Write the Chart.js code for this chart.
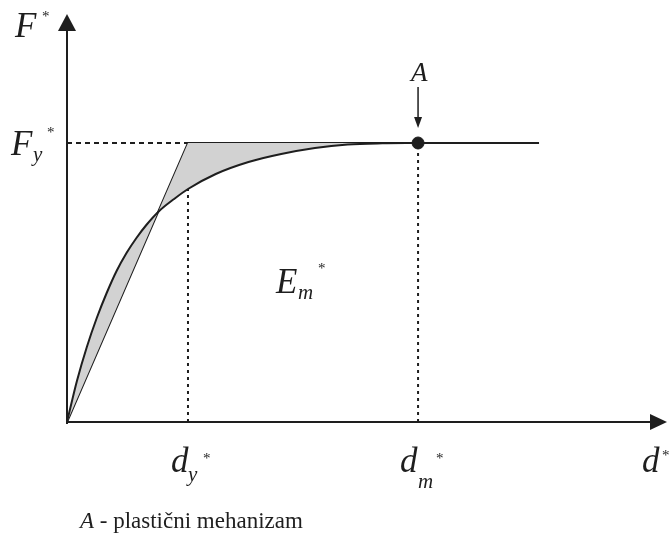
<!DOCTYPE html>
<html>
<head>
<meta charset="utf-8">
<script src="https://cdn.jsdelivr.net/npm/chart.js@4.4.1/dist/chart.umd.min.js"></script>
<style>
    body { margin: 0; background: #fff; }
    #wrap { width: 670px; height: 535px; position: relative; }
</style>
</head>
<body>
<div id="wrap"><canvas id="mainChart"></canvas></div>
<script>
// key values of the idealised diagram (drawing units)
var dy = 122;        // d_y*
var dm = 354;        // d_m*
var Fy = 279;        // F_y*
var xMax = 601;      // end of the d* axis
var yMax = 408;      // end of the F* axis
var flatEnd = 476;   // end of the plateau line

// real capacity curve, read point by point
var curveD = [0, 10, 20, 30, 40, 50, 60, 70, 80, 93, 108, 122, 150, 183, 216, 250, 283, 318, 354];
var curveF = [0, 41, 75, 104, 129, 151, 169, 184, 197, 211, 223, 233, 248, 260, 268, 274, 277.5, 278.7, 279];

// idealised elasto-plastic line
var bilinD = [0, dy, flatEnd];
var bilinF = [0, Fy, Fy];

var ink = '#1e1e1e';

function toPoints(xs, ys) {
    var pts = [];
    for (var i = 0; i < xs.length; i++) {
        pts.push({x: xs[i], y: ys[i]});
    }
    return pts;
}

// draws a letter with optional subscript and star
function label(ctx, x, y, main, sub, star, opts) {
    opts = opts || {};
    var size = opts.size || 35;
    ctx.fillStyle = ink;
    ctx.textBaseline = 'alphabetic';
    ctx.textAlign = 'left';
    ctx.font = 'italic ' + size + 'px "Liberation Serif"';
    ctx.fillText(main, x, y);
    if (sub) {
        ctx.font = 'italic 21px "Liberation Serif"';
        ctx.fillText(sub, opts.subX, opts.subY);
    }
    if (star) {
        ctx.font = '15px "Liberation Serif"';
        ctx.fillText('*', opts.starX, opts.starY);
    }
}

const overlay = {
    id: 'overlay',
    afterDatasetsDraw(chart) {
        const ctx = chart.ctx;
        const sx = chart.scales.x;
        const sy = chart.scales.y;
        const x0 = sx.getPixelForValue(0);
        const y0 = sy.getPixelForValue(0);
        const xe = sx.getPixelForValue(xMax);
        const ye = sy.getPixelForValue(yMax);

        ctx.save();
        ctx.strokeStyle = ink;
        ctx.fillStyle = ink;
        ctx.lineWidth = 2;
        ctx.setLineDash([]);

        // axes
        ctx.beginPath();
        ctx.moveTo(x0, y0 + 2);
        ctx.lineTo(x0, ye + 14);
        ctx.moveTo(x0, y0);
        ctx.lineTo(xe - 12, y0);
        ctx.stroke();

        // arrow heads
        ctx.beginPath();
        ctx.moveTo(x0, ye);
        ctx.lineTo(x0 - 9, ye + 17);
        ctx.lineTo(x0 + 9, ye + 17);
        ctx.closePath();
        ctx.fill();
        ctx.beginPath();
        ctx.moveTo(xe + 4, y0);
        ctx.lineTo(xe - 13, y0 - 8);
        ctx.lineTo(xe - 13, y0 + 8);
        ctx.closePath();
        ctx.fill();

        // arrow pointing at A
        const ax = sx.getPixelForValue(dm);
        const ay = sy.getPixelForValue(Fy);
        ctx.lineWidth = 1.5;
        ctx.beginPath();
        ctx.moveTo(ax, ay - 56);
        ctx.lineTo(ax, ay - 22);
        ctx.stroke();
        ctx.beginPath();
        ctx.moveTo(ax, ay - 15);
        ctx.lineTo(ax - 4, ay - 26);
        ctx.lineTo(ax + 4, ay - 26);
        ctx.closePath();
        ctx.fill();

        // labels
        label(ctx, 15, 37, 'F', null, true, {starX: 42, starY: 21});
        label(ctx, 11, 155, 'F', 'y', true, {subX: 33, subY: 161, starX: 47, starY: 137});
        label(ctx, 411, 81, 'A', null, false, {size: 27});
        label(ctx, 171, 472, 'd', 'y', true, {subX: 188, subY: 481, starX: 203, starY: 463});
        label(ctx, 400, 472, 'd', 'm', true, {subX: 418, subY: 488, starX: 436, starY: 463});
        label(ctx, 642, 472, 'd', null, true, {starX: 662, starY: 460});
        label(ctx, 276, 293, 'E', 'm', true, {subX: 298, subY: 299, starX: 318, starY: 273});

        // caption
        ctx.font = 'italic 23px "Liberation Serif"';
        ctx.fillText('A', 80, 528);
        ctx.font = '23px "Liberation Serif"';
        ctx.fillText(' - plastični mehanizam', 94, 528);
        ctx.restore();
    }
};

const dotted = {borderColor: ink, borderWidth: 2, pointRadius: 0, fill: false, showLine: true, clip: false};

const chartData = {
    datasets: [
        {
            label: 'krivulja',
            data: toPoints(curveD, curveF),
            borderColor: ink,
            borderWidth: 2,
            backgroundColor: '#d2d2d2',
            pointRadius: 0,
            showLine: true,
            cubicInterpolationMode: 'monotone',
            fill: 1,
            clip: false
        },
        {
            label: 'idealizacija',
            data: toPoints(bilinD, bilinF),
            borderColor: ink,
            borderWidth: 2,
            pointRadius: 0,
            showLine: true,
            fill: false,
            clip: false
        },
        Object.assign({label: 'Fy', data: [{x: 0, y: Fy}, {x: dy, y: Fy}], borderDash: [5, 4]}, dotted),
        Object.assign({label: 'dy', data: [{x: dy, y: 0}, {x: dy, y: Fy}], borderDash: [3, 4]}, dotted),
        Object.assign({label: 'dm', data: [{x: dm, y: 0}, {x: dm, y: Fy}], borderDash: [3, 4]}, dotted),
        {
            label: 'A',
            data: [{x: dm, y: Fy}],
            pointRadius: 6,
            pointBackgroundColor: ink,
            pointBorderColor: ink,
            showLine: false,
            clip: false
        }
    ]
};

const chartConfig = {
    type: 'scatter',
    data: chartData,
    options: {
        responsive: true,
        maintainAspectRatio: false,
        animation: false,
        events: [],
        layout: {
            padding: {left: 67, right: 2, top: 14, bottom: 113}
        },
        scales: {
            x: {type: 'linear', min: 0, max: xMax, display: false},
            y: {type: 'linear', min: 0, max: yMax, display: false}
        },
        plugins: {
            legend: {display: false},
            tooltip: {enabled: false},
            filler: {propagate: false}
        }
    },
    plugins: [overlay]
};

const ctx = document.getElementById('mainChart').getContext('2d');
new Chart(ctx, chartConfig);
</script>
</body>
</html>
